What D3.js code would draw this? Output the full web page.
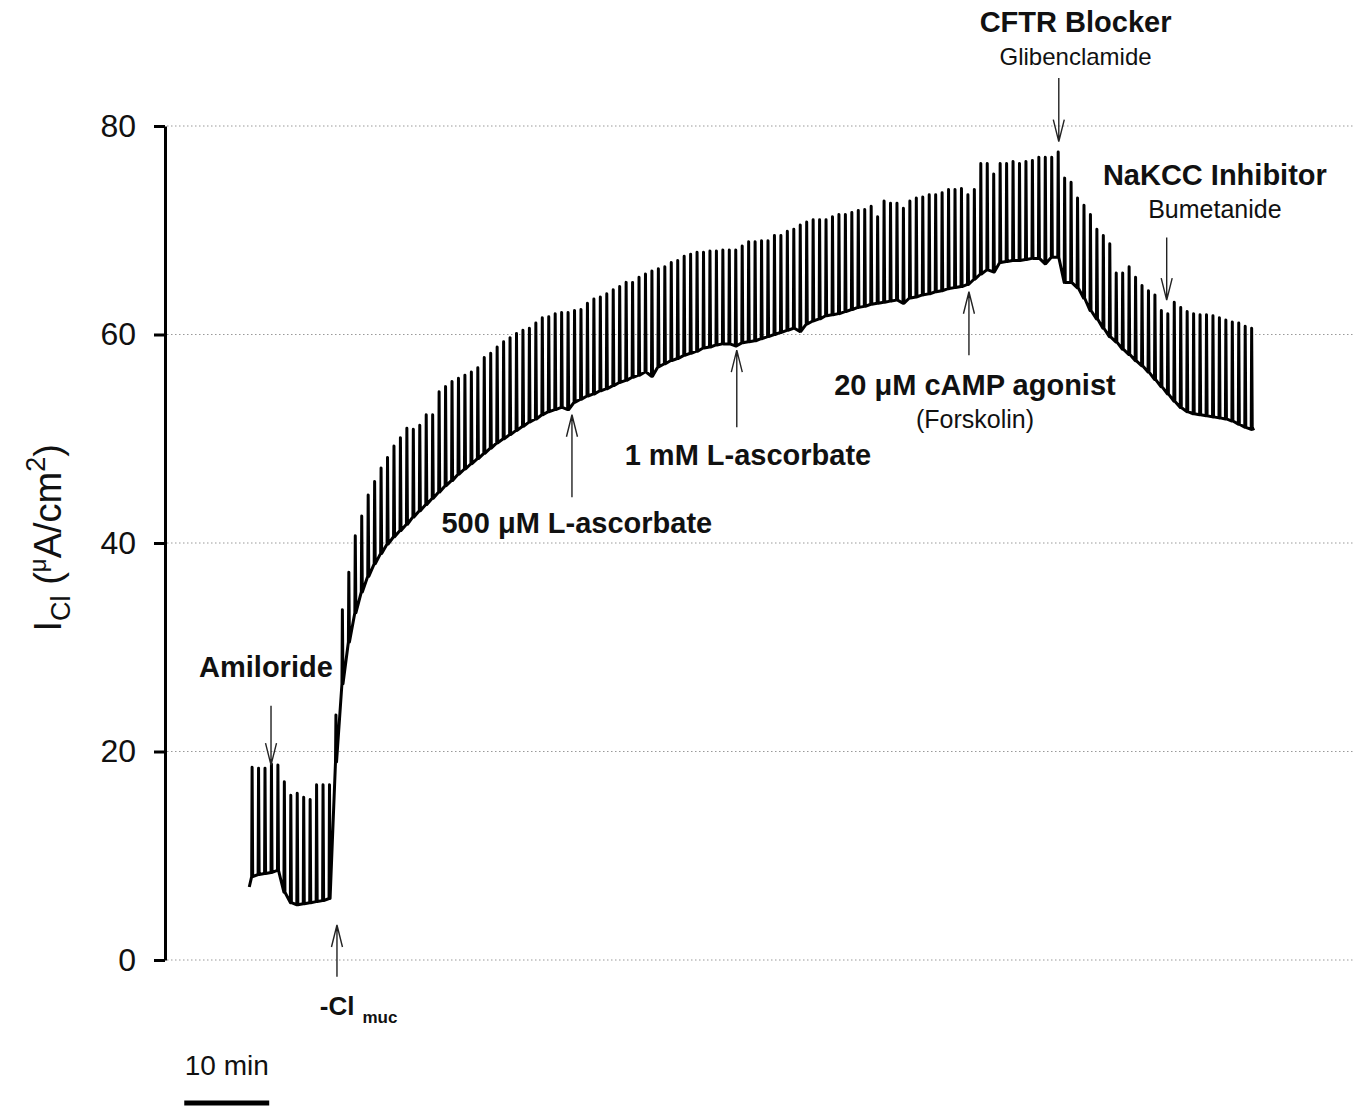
<!DOCTYPE html>
<html>
<head>
<meta charset="utf-8">
<script src="https://cdn.jsdelivr.net/npm/d3@7"></script>
<style>
  body { margin: 0; background: #fff; }
  svg { display: block; font-family: "Liberation Sans", Arial, sans-serif; }
</style>
</head>
<body>
<svg class="chart"></svg>
<script>
// short-circuit current trace, one voltage pulse every 45 s
var yTicks = [0, 20, 40, 60, 80];
var pulseStart = 10.08;   // min, first pulse
var pulseEvery = 0.75;    // min
var traceStart = [9.8, 7.0];
var traceEnd = [126.7, 51.0];

// current just before each pulse (uA/cm2)
var baseVals = [
  8.0, 8.2, 8.3, 8.4, 8.6, 6.5, 5.5, 5.3, 5.4, 5.5, 5.6, 5.7, 5.9, 19.0,
  26.5, 30.5, 33.3, 35.3, 36.8, 38.0, 39.0, 39.9, 40.6, 41.2, 41.8, 42.5, 43.1, 43.7, 44.3, 44.9,
  45.5, 46.0, 46.6, 47.1, 47.6, 48.1, 48.6, 49.1, 49.6, 50.0, 50.4, 50.8, 51.2, 51.6, 51.9, 52.3,
  52.6, 52.8, 53.0, 52.8,
  53.5, 53.8, 54.1, 54.3, 54.6, 54.8, 55.1, 55.4, 55.6, 55.9, 56.1, 56.4, 56.0, 56.9, 57.2, 57.5,
  57.7, 58.0, 58.2, 58.4, 58.7, 58.8, 59.0, 59.1, 59.1, 58.9, 59.2, 59.3, 59.4, 59.6, 59.8, 60.0,
  60.2, 60.4, 60.6, 60.3, 61.0, 61.3, 61.5, 61.8,
  61.9, 62.0, 62.2, 62.4, 62.6, 62.7, 62.9, 63.0, 63.1, 63.2, 63.3, 63.0, 63.5, 63.6, 63.8, 63.9,
  64.1, 64.2, 64.4, 64.5, 64.6, 64.8, 65.3, 65.8, 66.2, 66.0, 66.9, 67.0, 67.1, 67.1, 67.2, 67.3,
  67.3, 66.8, 67.4, 67.4, 65.0,
  65.0, 64.5, 63.5, 62.3, 61.5, 60.6, 59.8, 59.3, 58.6, 58.1, 57.5, 57.0, 56.4, 55.7, 55.0, 54.3,
  53.6, 53.0, 52.6, 52.4, 52.3, 52.2, 52.1, 52.0, 51.9, 51.7, 51.4, 51.1, 50.9
];
// current at the top of each pulse (uA/cm2)
var peakVals = [
  18.5, 18.4, 18.4, 18.8, 18.7, 17.1, 15.8, 16.0, 15.6, 15.4, 16.8, 16.8, 16.8, 23.5,
  33.6, 37.2, 40.7, 42.6, 44.6, 45.9, 47.2, 48.2, 49.3, 50.1, 51.0, 50.9, 51.3, 52.3, 52.3, 54.5,
  55.0, 55.5, 55.8, 56.1, 56.4, 56.8, 57.8, 58.2, 58.8, 59.3, 59.7, 60.1, 60.4, 60.6, 61.1, 61.6,
  61.7, 62.0, 62.1, 62.1,
  62.3, 62.4, 63.0, 63.4, 63.6, 63.9, 64.3, 64.6, 65.0, 65.0, 65.5, 65.8, 66.1, 66.3, 66.5, 66.9,
  67.1, 67.5, 67.7, 67.9, 67.9, 68.0, 68.0, 68.1, 68.1, 68.1, 68.5, 68.9, 68.9, 69.0, 69.0, 69.5,
  69.5, 69.9, 70.1, 70.5, 70.8, 71.0, 71.0, 71.0,
  71.3, 71.5, 71.5, 71.7, 71.9, 72.0, 72.3, 71.3, 72.8, 72.6, 72.6, 72.1, 72.8, 73.1, 73.2, 73.4,
  73.4, 73.6, 73.9, 73.9, 74.0, 73.4, 73.9, 76.4, 76.4, 75.4, 76.4, 76.4, 76.6, 76.4, 76.6, 76.7,
  77.0, 77.0, 77.0, 77.5, 75.0,
  74.6, 73.1, 72.4, 71.5, 70.1, 69.5, 68.7, 65.9, 65.9, 66.5, 65.5, 64.7, 64.2, 63.8, 62.3, 62.0,
  63.1, 62.6, 62.2, 62.0, 61.9, 61.9, 61.8, 61.6, 61.4, 61.2, 61.1, 60.8, 60.6
];

// treatment labels: arrow from (t, y1) to (t, y2), text lines at (lt, ly...)
var annotations = [
  { t: 12.33, y1: 24.4, y2: 18.7, lt: 11.74, lines: [["Amiloride", 27.1, "bold", 29]] },
  { t: 47.33, y1: 44.4, y2: 52.3, lt: 47.9, lines: [["500 \u03bcM L-ascorbate", 40.96, "bold", 29]] },
  { t: 66.5, y1: 51.1, y2: 58.5, lt: 67.8, lines: [["1 mM L-ascorbate", 47.5, "bold", 29]] },
  { t: 93.5, y1: 58.0, y2: 64.1, lt: 94.2, lines: [["20 \u03bcM cAMP agonist", 54.2, "bold", 29], ["(Forskolin)", 51.0, "normal", 25]] },
  { t: 103.95, y1: 84.6, y2: 78.5, lt: 105.9, lines: [["CFTR Blocker", 89.0, "bold", 29], ["Glibenclamide", 85.85, "normal", 24]] },
  { t: 116.5, y1: 69.3, y2: 63.3, lt: 122.1, lines: [["NaKCC Inhibitor", 74.3, "bold", 29], ["Bumetanide", 71.2, "normal", 25]] },
  { t: 20.0, y1: -1.6, y2: 3.36, lt: null, lines: [] }
];

var frameWidth = 1358, frameHeight = 1106;
var xScale = d3.scaleLinear().domain([0, 138.4]).range([165, 1355]);
var yScale = d3.scaleLinear().domain([0, 80]).range([960, 126]);

var svg = d3.select(".chart").attr("width", frameWidth).attr("height", frameHeight);

// dotted gridlines
svg.append("g").selectAll("line").data(yTicks).enter().append("line")
  .attr("x1", xScale(0) + 2).attr("x2", xScale(138.4))
  .attr("y1", function(d) { return yScale(d); }).attr("y2", function(d) { return yScale(d); })
  .attr("stroke", "#999").attr("stroke-width", 1).attr("stroke-dasharray", "1.5,2.5");

// y axis
var yAxis = svg.append("g")
  .attr("transform", "translate(" + xScale(0) + ",0)")
  .call(d3.axisLeft(yScale).tickValues(yTicks).tickSize(11).tickSizeOuter(0).tickPadding(18));
yAxis.select(".domain").attr("stroke-width", 3);
yAxis.selectAll(".tick line").attr("stroke-width", 3);
yAxis.selectAll(".tick text").attr("font-size", 32).attr("font-family", "Liberation Sans, Arial, sans-serif").attr("fill", "#111");

// y label
var yl = svg.append("text")
  .attr("transform", "translate(61," + yScale(40.5) + ") rotate(-90)")
  .attr("text-anchor", "middle").attr("font-size", 38).attr("fill", "#111");
yl.append("tspan").text("I");
yl.append("tspan").attr("font-size", 27).attr("dy", 9).text("Cl");
yl.append("tspan").attr("dy", -9).text(" (");
yl.append("tspan").attr("font-size", 24).attr("dy", -15).text("\u03bc");
yl.append("tspan").attr("dy", 15).text("A/cm");
yl.append("tspan").attr("font-size", 27).attr("dy", -16).text("2");
yl.append("tspan").attr("dy", 16).text(")");

// trace
var pts = [traceStart];
baseVals.forEach(function(b, i) {
  var t = pulseStart + i * pulseEvery;
  pts.push([t, b]);
  pts.push([t + 0.05, peakVals[i]]);
  pts.push([t + 0.12, b]);
});
pts.push(traceEnd);

var line = d3.line().x(function(d) { return xScale(d[0]); }).y(function(d) { return yScale(d[1]); });
svg.append("path").datum(pts).attr("d", line)
  .attr("fill", "none").attr("stroke", "#000").attr("stroke-width", 3)
  .attr("stroke-linejoin", "round");

// arrows and labels
annotations.forEach(function(a) {
  var x = xScale(a.t), y1 = yScale(a.y1), y2 = yScale(a.y2);
  var dir = y2 > y1 ? 1 : -1;
  svg.append("path")
    .attr("d", "M" + x + "," + y1 + "L" + x + "," + y2 +
      "M" + (x - 5.5) + "," + (y2 - dir * 22) + "L" + x + "," + y2 + "L" + (x + 5.5) + "," + (y2 - dir * 22))
    .attr("fill", "none").attr("stroke", "#222").attr("stroke-width", 1.4);
  a.lines.forEach(function(l) {
    svg.append("text")
      .attr("x", xScale(a.lt)).attr("y", yScale(l[1]))
      .attr("text-anchor", "middle").attr("font-weight", l[2]).attr("font-size", l[3])
      .attr("fill", "#111").text(l[0]);
  });
});

// -Cl muc label
var cl = svg.append("text").attr("x", xScale(18.0)).attr("y", yScale(-5.3))
  .attr("font-weight", "bold").attr("font-size", 26).attr("fill", "#111");
cl.append("tspan").text("-Cl");
cl.append("tspan").attr("font-size", 17).attr("dx", 8).attr("dy", 8).text("muc");

// time scale bar
svg.append("line")
  .attr("x1", xScale(2.24)).attr("x2", xScale(12.12))
  .attr("y1", 1103).attr("y2", 1103)
  .attr("stroke", "#000").attr("stroke-width", 5);
svg.append("text")
  .attr("x", (xScale(2.24) + xScale(12.12)) / 2).attr("y", 1075)
  .attr("text-anchor", "middle").attr("font-size", 28).attr("fill", "#111")
  .text("10 min");
</script>
</body>
</html>
